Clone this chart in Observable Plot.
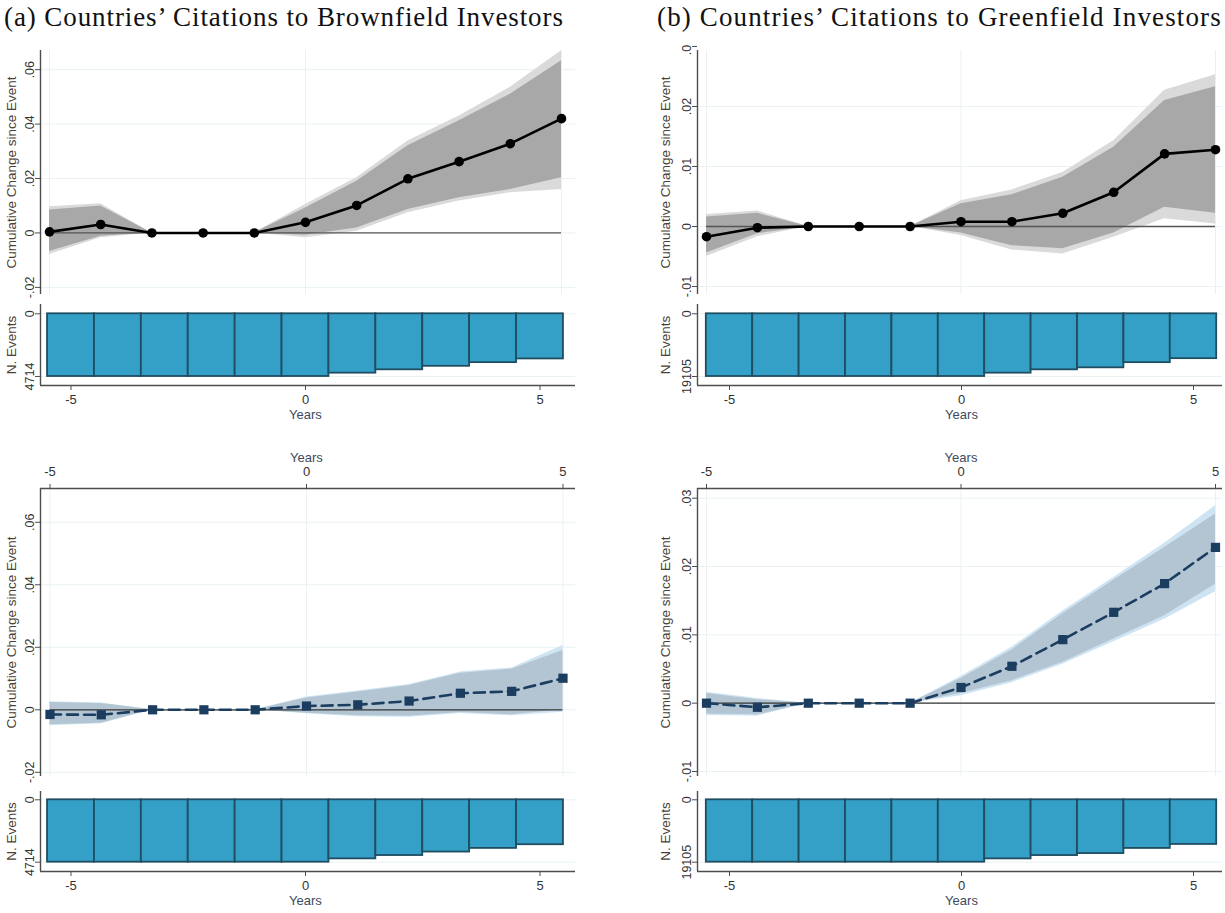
<!DOCTYPE html>
<html>
<head>
<meta charset="utf-8">
<script src="https://cdn.jsdelivr.net/npm/d3@7"></script>
<script src="https://cdn.jsdelivr.net/npm/@observablehq/plot@0.6"></script>
<style>
  body { margin: 0; background: #fff; }
  #root { position: relative; width: 1225px; height: 913px; overflow: hidden; background: #fff; }
  .panel { position: absolute; }
  .title { position: absolute; font-family: "Liberation Serif", "DejaVu Serif", serif; font-size: 24px; color: #111; white-space: nowrap; line-height: 1; }
</style>
</head>
<body>
<div id="root"></div>
<script>
// ---------- data ----------
const years = [-5, -4, -3, -2, -1, 0, 1, 2, 3, 4, 5];

// (a) Brownfield, baseline specification (gray bands)
const brownPoint = [0.0004, 0.0031, 0, 0, 0, 0.0039, 0.0101, 0.0199, 0.0262, 0.0328, 0.0420];
const brownHiOut = [0.0096, 0.0107, 0, 0, 0, 0.0105, 0.0203, 0.0338, 0.0430, 0.0535, 0.0670];
const brownHiIn  = [0.0084, 0.0099, 0, 0, 0, 0.0092, 0.0190, 0.0320, 0.0412, 0.0510, 0.0633];
const brownLoIn  = [-0.0068, -0.0012, 0, 0, 0, -0.0008, 0.0018, 0.0086, 0.0129, 0.0160, 0.0203];
const brownLoOut = [-0.0079, -0.0018, 0, 0, 0, -0.0018, 0.0006, 0.0074, 0.0117, 0.0148, 0.0160];

// (b) Greenfield, baseline specification (gray bands)
const greenPoint = [-0.0017, -0.0002, 0, 0, 0, 0.0008, 0.0008, 0.0022, 0.0057, 0.0121, 0.0128];
const greenHiOut = [0.0020, 0.0026, 0, 0, 0, 0.0043, 0.0061, 0.0090, 0.0143, 0.0227, 0.0253];
const greenHiIn  = [0.0016, 0.0022, 0, 0, 0, 0.0038, 0.0053, 0.0082, 0.0132, 0.0210, 0.0233];
const greenLoIn  = [-0.0044, -0.0012, 0, 0, 0, -0.0011, -0.0032, -0.0037, -0.0011, 0.0032, 0.0022];
const greenLoOut = [-0.0050, -0.0017, 0, 0, 0, -0.0015, -0.0039, -0.0046, -0.0018, 0.0013, 0.0004];

// (a) Brownfield, second specification (blue bands)
const brown2Point = [-0.0015, -0.0016, 0, 0, 0, 0.0012, 0.0016, 0.0028, 0.0053, 0.0059, 0.0101];
const brown2HiOut = [0.0026, 0.0022, 0, 0, 0, 0.0041, 0.0060, 0.0081, 0.0121, 0.0134, 0.0206];
const brown2HiIn  = [0.0023, 0.0020, 0, 0, 0, 0.0038, 0.0057, 0.0078, 0.0117, 0.0130, 0.0190];
const brown2LoIn  = [-0.0048, -0.0043, 0, 0, 0, -0.0011, -0.0019, -0.0021, -0.0009, -0.0016, 0.0000];
const brown2LoOut = [-0.0051, -0.0045, 0, 0, 0, -0.0013, -0.0022, -0.0024, -0.0012, -0.0019, -0.0008];

// (b) Greenfield, second specification (blue bands)
const green2Point = [0.0000, -0.0006, 0, 0, 0, 0.0023, 0.0054, 0.0093, 0.0133, 0.0175, 0.0228];
const green2HiOut = [0.0016, 0.0007, 0, 0, 0, 0.0039, 0.0082, 0.0135, 0.0184, 0.0234, 0.0289];
const green2HiIn  = [0.0014, 0.0005, 0, 0, 0, 0.0036, 0.0078, 0.0131, 0.0180, 0.0228, 0.0277];
const green2LoIn  = [-0.0016, -0.0017, 0, 0, 0, 0.0014, 0.0033, 0.0060, 0.0094, 0.0128, 0.0174];
const green2LoOut = [-0.0018, -0.0019, 0, 0, 0, 0.0011, 0.0030, 0.0057, 0.0090, 0.0123, 0.0163];

// Number of events per event-year
const brownEvents = [4714, 4714, 4714, 4714, 4714, 4714, 4463, 4211, 3948, 3671, 3394];
const greenEvents = [19105, 19105, 19105, 19105, 19105, 19105, 18089, 17073, 16463, 14887, 13668];

// tick labels
const xTicks = [-5, 0, 5];
const brownYTicks = [-0.02, 0, 0.02, 0.04, 0.06];
const greenYTicks = [-0.01, 0, 0.01, 0.02, 0.03];
const titleA = "(a) Countries\u2019 Citations to Brownfield Investors";
const titleB = "(b) Countries\u2019 Citations to Greenfield Investors";
const yTitle = "Cumulative Change since Event";
const barTitle = "N. Events";
const xTitle = "Years";

// ---------- helpers ----------
const root = document.getElementById("root");
const FONT = "'Liberation Sans', Arial, sans-serif";
const TXT = "#333";
const TTL = "#4a3f36";
const AX = "#4d4d4d";
const GRID = "#e9f1f3";

function fmtY(v) {
  if (v === 0) return "0";
  const s = String(+v.toFixed(4));
  return s.replace(/^(-?)0\./, "$1.");
}
function rows(pt, hiO, hiI, loI, loO) {
  return years.map((t, i) => ({t, pt: pt[i], hiO: hiO[i], hiI: hiI[i], loI: loI[i], loO: loO[i]}));
}
function place(node, left, top) {
  const d = document.createElement("div");
  d.className = "panel";
  d.style.left = left + "px";
  d.style.top = top + "px";
  d.appendChild(node);
  root.appendChild(d);
}

function linePanel(o) {
  const data = rows(...o.series);
  const [ylo, yhi] = o.ydom;
  const gridTicks = o.yticks.filter(v => v >= ylo && v <= yhi);
  const blue = o.kind === "blue";
  const marks = [
    Plot.ruleY(gridTicks, {stroke: GRID, strokeWidth: 1}),
    Plot.ruleX(xTicks, {stroke: GRID, strokeWidth: 1}),
    Plot.areaY(data, {x: "t", y1: "loO", y2: "hiO", fill: blue ? "#cfe4f2" : "#dadada", curve: "linear"}),
    Plot.areaY(data, {x: "t", y1: "loI", y2: "hiI", fill: blue ? "#b3c5d2" : "#a8a8a8", curve: "linear"}),
    Plot.ruleY([0], {x1: -5, x2: 5, stroke: blue ? "#333" : "#555", strokeWidth: 1.3}),
    Plot.line(data, {x: "t", y: "pt", stroke: blue ? "#1b3d60" : "#000", strokeWidth: 2.6,
      strokeDasharray: blue ? "11,6" : null}),
    Plot.dot(data, {x: "t", y: "pt", r: blue ? 5.2 : 4.8, symbol: blue ? "square" : "circle",
      fill: blue ? "#1b3d60" : "#000", stroke: "none"}),
    Plot.ruleX([o.xdom[0]], {y1: ylo, y2: yhi, stroke: AX, strokeWidth: 1.4}),
    Plot.axisY(o.yticks, {anchor: "left", tickSize: 5, tickFormat: () => "", stroke: AX, label: null}),
    Plot.text(o.yticks, {y: d => d, text: fmtY, frameAnchor: "left", textAnchor: "middle", lineAnchor: "middle",
      dx: -11, rotate: -90, fill: TXT, fontSize: 12.5}),
    Plot.text([yTitle], {frameAnchor: "left", textAnchor: "middle", lineAnchor: "middle",
      dx: o.titleDx, rotate: -90, fill: TTL, fontSize: 13.5})
  ];
  if (o.topAxis) {
    marks.push(
      Plot.ruleY([yhi], {stroke: AX, strokeWidth: 1.4}),
      Plot.axisX(xTicks, {anchor: "top", tickSize: 5, tickPadding: 8, tickFormat: d => String(d),
        stroke: AX, fill: TXT, fontSize: 13, label: null}),
      Plot.text([xTitle], {x: [0], frameAnchor: "top", textAnchor: "middle", dy: -36, fill: "#3d4a5c", fontSize: 13})
    );
  }
  const svg = Plot.plot({
    width: o.width, height: o.height,
    marginTop: o.mt, marginBottom: o.mb, marginLeft: o.ml, marginRight: o.mr,
    x: {domain: o.xdom, axis: null},
    y: {domain: o.ydom, axis: null},
    style: {fontFamily: FONT, fontSize: "13px", background: "transparent", overflow: "hidden"},
    marks
  });
  place(svg, o.left, o.top);
}

function barPanel(o) {
  const N = o.events[0];
  const data = years.map((t, i) => ({t, n: o.events[i]}));
  const svg = Plot.plot({
    width: o.width, height: o.height,
    marginTop: o.mt, marginBottom: o.mb, marginLeft: o.ml, marginRight: o.mr,
    x: {domain: o.xdom, axis: null},
    y: {domain: o.ydom, reverse: true, axis: null},
    style: {fontFamily: FONT, fontSize: "13px", background: "transparent", overflow: "hidden"},
    marks: [
      Plot.ruleY([0, N], {stroke: GRID}),
      Plot.rect(data, {x1: d => d.t - 0.5, x2: d => d.t + 0.5, y1: 0, y2: "n",
        fill: "#34a0c8", stroke: "#1f4d61", strokeWidth: 1.8}),
      Plot.ruleX([o.xdom[0]], {stroke: AX, strokeWidth: 1.4}),
      Plot.ruleY([o.ydom[1]], {stroke: AX, strokeWidth: 1.4}),
      Plot.axisY([0, N], {anchor: "left", tickSize: 5, tickFormat: () => "", stroke: AX, label: null}),
      Plot.text([0, N], {y: d => d, text: d => String(d), frameAnchor: "left", textAnchor: "middle", lineAnchor: "middle",
        dx: -11, rotate: -90, fill: TXT, fontSize: 12.5}),
      Plot.text([barTitle], {frameAnchor: "left", textAnchor: "middle", lineAnchor: "middle",
        dx: o.titleDx, rotate: -90, fill: TTL, fontSize: 13.5}),
      Plot.axisX(xTicks, {anchor: "bottom", tickSize: 5, tickPadding: 4, tickFormat: d => String(d),
        stroke: AX, fill: TXT, fontSize: 13, label: null}),
      Plot.text([xTitle], {x: [0], frameAnchor: "bottom", textAnchor: "middle", dy: 33, fill: "#3d4a5c", fontSize: 13})
    ]
  });
  place(svg, o.left, o.top);
}

// ---------- titles ----------
function addTitle(text, left, top, target) {
  const d = document.createElement("div");
  d.className = "title";
  d.textContent = text;
  d.style.left = left + "px";
  d.style.top = top + "px";
  root.appendChild(d);
  const w = d.getBoundingClientRect().width;
  const size = Math.min(27, 24 * target / w);
  d.style.fontSize = size.toFixed(2) + "px";
  const w2 = d.getBoundingClientRect().width;
  d.style.letterSpacing = ((target - w2) / text.length).toFixed(2) + "px";
}
addTitle(titleA, 4, 4, 560);
addTitle(titleB, 657, 4, 565);

// ---------- panels ----------
// bar panels first, so the taller line panels (transparent) can overlap them
// left column
barPanel({left: 0, top: 298, width: 600, height: 127, mt: 6, mb: 40, ml: 40, mr: 25,
  xdom: [-5.650, 5.757], ydom: [-699, 5391], events: brownEvents, titleDx: -29});
barPanel({left: 0, top: 780, width: 600, height: 133, mt: 11, mb: 42, ml: 40, mr: 25,
  xdom: [-5.650, 5.757], ydom: [-627, 5417], events: brownEvents, titleDx: -29});
linePanel({left: 0, top: 40, width: 600, height: 258, mt: 10, mb: 4, ml: 40, mr: 25,
  xdom: [-5.1758, 5.2734], ydom: [-0.02262, 0.06705], yticks: brownYTicks, titleDx: -29,
  series: [brownPoint, brownHiOut, brownHiIn, brownLoIn, brownLoOut], kind: "gray"});
linePanel({left: 0, top: 430, width: 600, height: 360, mt: 58, mb: 14, ml: 40, mr: 25,
  xdom: [-5.185, 5.244], ydom: [-0.02134, 0.0708], yticks: brownYTicks, titleDx: -29, topAxis: true,
  series: [brown2Point, brown2HiOut, brown2HiIn, brown2LoIn, brown2LoOut], kind: "blue"});

// right column
barPanel({left: 640, top: 298, width: 585, height: 127, mt: 6, mb: 40, ml: 57, mr: 3,
  xdom: [-5.690, 5.625], ydom: [-2834, 21847], events: greenEvents, titleDx: -32});
barPanel({left: 640, top: 780, width: 585, height: 133, mt: 11, mb: 42, ml: 57, mr: 3,
  xdom: [-5.690, 5.625], ydom: [-2541, 21953], events: greenEvents, titleDx: -32});
linePanel({left: 640, top: 45, width: 585, height: 253, mt: 5, mb: 4, ml: 57, mr: 3,
  xdom: [-5.177, 5.1375], ydom: [-0.01133, 0.02933], yticks: greenYTicks, titleDx: -32,
  series: [greenPoint, greenHiOut, greenHiIn, greenLoIn, greenLoOut], kind: "gray"});
linePanel({left: 640, top: 430, width: 585, height: 360, mt: 58, mb: 14, ml: 57, mr: 3,
  xdom: [-5.177, 5.1375], ydom: [-0.01073, 0.03142], yticks: greenYTicks, titleDx: -32, topAxis: true,
  series: [green2Point, green2HiOut, green2HiIn, green2LoIn, green2LoOut], kind: "blue"});
</script>
</body>
</html>
